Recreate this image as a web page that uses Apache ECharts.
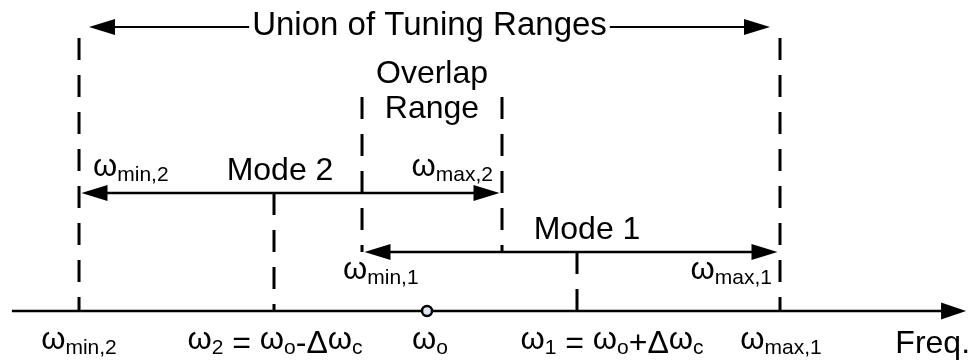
<!DOCTYPE html>
<html><head><meta charset="utf-8">
<script src="https://cdn.jsdelivr.net/npm/echarts@6/dist/echarts.min.js"></script>
<style>html,body{margin:0;padding:0;background:#fff}#c{width:976px;height:360px}</style>
</head><body><div id="c"></div>
<script>
// ---------- DATA (normalised frequency: ωo = 0, Δωc = 1) ----------
const markerKeys = ['wmin2', 'w2', 'wmin1', 'wo', 'wmax2', 'w1', 'wmax1'];
const markerFreq = [-2.287, -1.0, -0.419, 0.01, 0.505, 1.0, 2.34];

// tuning ranges (double arrows)
const rangeNames = ['Union of Tuning Ranges', 'Mode 2', 'Mode 1'];
const rangeFrom = ['wmin2', 'wmin2', 'wmin1'];
const rangeTo = ['wmax1', 'wmax2', 'wmax1'];
const rangeLevel = [284, 118, 59];

// dashed guide lines
const guideKeys = ['wmin2', 'w2', 'wmin1', 'wmax2', 'w1', 'wmax1'];
const guideLow = [0, 0, 59, 59, 0, 0];
const guideHigh = [273, 118, 214, 214, 59, 273];

// axis labels
const axisLabelKeys = ['wmin2', 'w2', 'wo', 'w1', 'wmax1'];
const axisLabelTexts = [
  '{w|ω}{s|min,2}',
  '{w|ω}{s|2} = {w|ω}{s|o}-Δ{w|ω}{s|c}',
  '{w|ω}{s|o}',
  '{w|ω}{s|1} = {w|ω}{s|o}+Δ{w|ω}{s|c}',
  '{w|ω}{s|max,1}'
];
const axisTitle = 'Freq.';
const overlapTitle = 'Overlap\nRange';
const endLabelTexts = ['{w|ω}{s|min,2}', '{w|ω}{s|max,2}', '{w|ω}{s|min,1}', '{w|ω}{s|max,1}'];
const axisStart = -2.73, axisEnd = 3.568;

// ---------- LAYOUT / STYLE ----------
const FONT = "'Liberation Sans', Arial, sans-serif";
const F = k => markerFreq[markerKeys.indexOf(k)];
const rich = {
  w: { fontSize: 31, lineHeight: 32, padding: [0, 0, 8, 0], fontFamily: FONT, fill: '#000', color: '#000' },
  s: { fontSize: 21, lineHeight: 32, padding: [8, 0, 0, 0], fontFamily: FONT, fill: '#000', color: '#000' }
};

const textLayer = [
  { text: rangeNames[0], f: (F('wmin2') + F('wmax1')) / 2, h: rangeLevel[0], dx: 0, dy: -1.5, align: 'center', size: 33, bg: true },
  { text: rangeNames[1], f: F('w2'), h: rangeLevel[1], dx: 6, dy: -22, align: 'center' },
  { text: rangeNames[2], f: F('w1'), h: rangeLevel[2], dx: 10, dy: -22, align: 'center' },
  { text: overlapTitle, f: (F('wmin1') + F('wmax2')) / 2, h: guideHigh[2], dx: 0, dy: -5.5, align: 'center', lh: 35 },
  { text: endLabelTexts[0], f: F('wmin2'), h: rangeLevel[1], dx: 14, dy: -22, align: 'left' },
  { text: endLabelTexts[1], f: F('wmax2'), h: rangeLevel[1], dx: -9, dy: -22, align: 'right' },
  { text: endLabelTexts[2], f: F('wmin1'), h: rangeLevel[2], dx: -19, dy: 22, align: 'left' },
  { text: endLabelTexts[3], f: F('wmax1'), h: rangeLevel[2], dx: -8, dy: 22, align: 'right' },
  { text: axisTitle, f: axisEnd, h: 0, dx: 4, dy: 33, align: 'right' }
];
const axisDx = [0, 1, 3, 35, 1];
axisLabelKeys.forEach((k, i) => textLayer.push({ text: axisLabelTexts[i], f: F(k), h: 0, dx: axisDx[i], dy: 33, align: 'center' }));

const chart = echarts.init(document.getElementById('c'), null, { renderer: 'canvas' });

function arrowHead(tipX, y, dir, len, half) {
  return { type: 'polygon', shape: { points: [[tipX, y], [tipX - dir * len, y - half], [tipX - dir * len, y + half]] }, style: { fill: '#000' } };
}

chart.setOption({
  animation: false,
  grid: { left: 0, right: 0, top: 0, bottom: 0 },
  xAxis: { type: 'value', min: -2.8086, max: 3.6337, show: false },
  yAxis: { type: 'value', min: -49, max: 311, show: false },
  series: [
    { // dashed guides
      type: 'custom', silent: true,
      data: guideKeys.map((k, i) => [F(k), guideLow[i], guideHigh[i]]),
      renderItem: (p, api) => {
        const a = api.coord([api.value(0), api.value(2)]);
        const b = api.coord([api.value(0), api.value(1)]);
        return { type: 'line', shape: { x1: a[0], y1: a[1], x2: b[0], y2: b[1] }, style: { stroke: '#000', lineWidth: 3, lineDash: [22, 15] } };
      }
    },
    { // frequency axis
      type: 'custom', silent: true,
      data: [[axisStart, axisEnd, 0]],
      renderItem: (p, api) => {
        const a = api.coord([api.value(0), api.value(2)]);
        const b = api.coord([api.value(1), api.value(2)]);
        return { type: 'group', children: [
          { type: 'line', shape: { x1: a[0], y1: a[1], x2: b[0] - 22, y2: b[1] }, style: { stroke: '#000', lineWidth: 2.5 } },
          arrowHead(b[0], b[1], 1, 25, 8.5)
        ] };
      }
    },
    { // range arrows
      type: 'custom', silent: true,
      data: rangeNames.map((n, i) => [F(rangeFrom[i]), F(rangeTo[i]), rangeLevel[i]]),
      renderItem: (p, api) => {
        const i = p.dataIndex;
        const inset = i === 0 ? 10 : 2.5;
        const a = api.coord([api.value(0), api.value(2)]);
        const b = api.coord([api.value(1), api.value(2)]);
        const l = a[0] + inset, r = b[0] - inset;
        return { type: 'group', children: [
          { type: 'line', shape: { x1: l + 20, y1: a[1], x2: r - 20, y2: b[1] }, style: { stroke: '#000', lineWidth: i === 0 ? 2 : 2.5 } },
          arrowHead(l, a[1], -1, 26, 8),
          arrowHead(r, b[1], 1, 26, 8)
        ] };
      }
    },
    { // ωo marker
      type: 'custom', silent: true,
      data: [[F('wo'), 0]],
      renderItem: (p, api) => {
        const c = api.coord([api.value(0), api.value(1)]);
        return { type: 'circle', shape: { cx: c[0], cy: c[1], r: 5 }, style: { fill: '#dfe6f6', stroke: '#000', lineWidth: 2.5 } };
      }
    },
    { // texts
      type: 'custom', silent: true,
      data: textLayer.map(t => [t.f, t.h]),
      renderItem: (p, api) => {
        const t = textLayer[p.dataIndex];
        const c = api.coord([api.value(0), api.value(1)]);
        const style = {
          text: t.text, fill: '#000', fontSize: t.size || 32, fontFamily: FONT,
          align: t.align, verticalAlign: 'middle', lineHeight: t.lh || 40, rich: rich
        };
        if (t.bg) { style.backgroundColor = '#fff'; style.padding = [0, 3, 0, 3]; }
        return { type: 'text', x: c[0] + t.dx, y: c[1] + t.dy, style: style, z2: 10 };
      }
    }
  ]
});
</script>
</body></html>
